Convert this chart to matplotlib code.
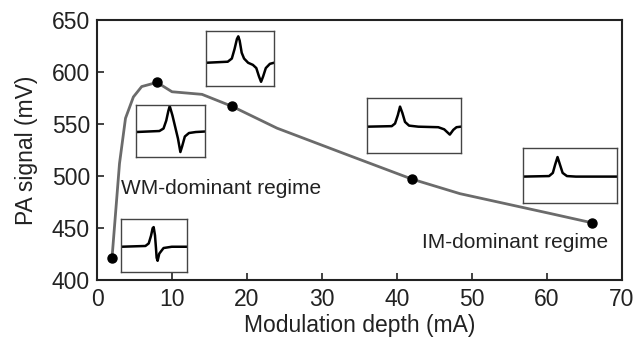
import matplotlib
matplotlib.use("Agg")
import matplotlib.pyplot as plt

plt.rcParams['font.family'] = ['Liberation Sans', 'DejaVu Sans']

# PA signal vs modulation depth
depth = [2, 3.0, 3.8, 4.85, 5.96, 8, 10, 14, 18, 24, 33.7, 42, 48.4, 60.4, 66]
signal = [421, 512, 555.5, 576, 586, 590, 581, 578.5, 567, 546, 519.5, 497, 483, 464, 455]

# measured points (shown as dots)
meas_depth = [2, 8, 18, 42, 66]
meas_signal = [421, 590, 567, 497, 455]

# second-harmonic line shapes (normalised, 0..1 in each inset)
wave_2mA_u = [0, 0.37, 0.42, 0.455, 0.48, 0.495, 0.515, 0.53, 0.54, 0.555, 0.58, 0.645, 0.77, 1.0]
wave_2mA_v = [0.475, 0.49, 0.54, 0.69, 0.84, 0.86, 0.70, 0.45, 0.26, 0.20, 0.34, 0.45, 0.475, 0.475]

wave_8mA_u = [0, 0.34, 0.40, 0.44, 0.47, 0.49, 0.53, 0.57, 0.61, 0.645, 0.67, 0.71, 0.77, 0.87, 1.0]
wave_8mA_v = [0.48, 0.50, 0.55, 0.71, 0.90, 1.0, 0.81, 0.58, 0.35, 0.08, 0.19, 0.39, 0.46, 0.48, 0.49]

wave_18mA_u = [0, 0.32, 0.38, 0.42, 0.455, 0.475, 0.495, 0.525, 0.56, 0.62, 0.69, 0.74, 0.78, 0.81, 0.84, 0.88, 0.94, 1.0]
wave_18mA_v = [0.42, 0.44, 0.50, 0.68, 0.87, 0.92, 0.84, 0.61, 0.50, 0.42, 0.38, 0.32, 0.16, 0.06, 0.16, 0.32, 0.40, 0.42]

wave_42mA_u = [0, 0.265, 0.30, 0.33, 0.353, 0.378, 0.406, 0.449, 0.548, 0.76, 0.823, 0.859, 0.883, 0.92, 0.954, 1.0]
wave_42mA_v = [0.48, 0.49, 0.54, 0.70, 0.86, 0.74, 0.57, 0.50, 0.48, 0.47, 0.43, 0.37, 0.33, 0.42, 0.47, 0.48]

wave_66mA_u = [0, 0.28, 0.32, 0.345, 0.37, 0.395, 0.424, 0.47, 0.565, 1.0]
wave_66mA_v = [0.48, 0.49, 0.55, 0.71, 0.85, 0.71, 0.55, 0.49, 0.48, 0.48]

fig = plt.figure(figsize=(6.35, 3.38), dpi=100)
ax = fig.add_axes([97/635, 1 - 280/338, 525/635, 260/338])

ax.plot(depth, signal, color='#6b6b6b', lw=2, zorder=2)
ax.plot(meas_depth, meas_signal, 'o', color='black', ms=6.5, zorder=3)

ax.set_xlim(0, 70)
ax.set_ylim(400, 650)
ax.set_xticks(range(0, 71, 10))
ax.set_yticks(range(400, 651, 50))
ax.tick_params(direction='in', length=5, width=1.2, labelsize=16.5, colors='#222222')
ax.tick_params(axis='x', pad=6)
ax.tick_params(axis='y', pad=5)
for s in ax.spines.values():
    s.set_linewidth(1.5)
    s.set_color('#222222')
ax.set_xlabel('Modulation depth (mA)', fontsize=16.5, color='#222222', labelpad=2)
ax.set_ylabel('PA signal (mV)', fontsize=16.5, color='#222222', labelpad=10)

ax.text(3.2, 488, 'WM-dominant regime', fontsize=15, color='#222222', va='center', ha='left')
ax.text(68.1, 436, 'IM-dominant regime', fontsize=15, color='#222222', va='center', ha='right')

# small insets with the line shape at each depth
insets = [
    ([0.0457, 0.0308, 0.1257, 0.204], wave_2mA_u, wave_2mA_v),
    ([0.0743, 0.473, 0.131, 0.2], wave_8mA_u, wave_8mA_v),
    ([0.2076, 0.746, 0.1295, 0.2115], wave_18mA_u, wave_18mA_v),
    ([0.514, 0.488, 0.179, 0.2115], wave_42mA_u, wave_42mA_v),
    ([0.811, 0.296, 0.179, 0.2115], wave_66mA_u, wave_66mA_v),
]
for bounds, u, v in insets:
    ins = ax.inset_axes(bounds)
    ins.plot(u, v, color='black', lw=1.8)
    ins.set_xlim(0, 1)
    ins.set_ylim(-0.02, 1.02)
    ins.set_xticks([])
    ins.set_yticks([])
    for s in ins.spines.values():
        s.set_linewidth(1)
        s.set_color('#444444')

fig.savefig('out.png', dpi=100)
